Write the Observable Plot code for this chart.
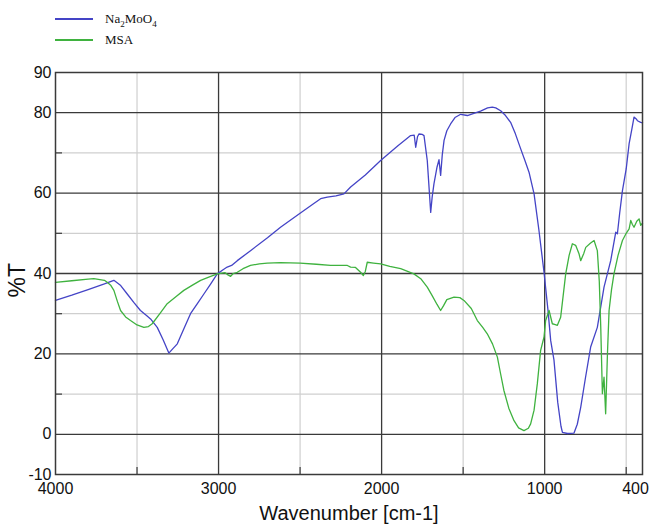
<!DOCTYPE html>
<html>
<head>
<meta charset="utf-8">
<script src="https://cdn.jsdelivr.net/npm/d3@7"></script>
<script src="https://cdn.jsdelivr.net/npm/@observablehq/plot@0.6"></script>
<style>
  body { margin: 0; background: #fff; width: 652px; height: 524px; overflow: hidden; }
  #legend { position: relative; height: 52px; font-family: "Liberation Serif", "Times New Roman", serif; font-size: 13px; color: #111; }
  .item { position: absolute; left: 55px; display: flex; align-items: center; line-height: 14px; }
  .swatch { width: 38px; height: 0; border-top: 2px solid; margin-right: 12px; }
  #chart svg { display: block; }
</style>
</head>
<body>
<div id="legend"></div>
<div id="chart"></div>
<script>
// ---- Data ----
const seriesNames = ["Na2MoO4", "MSA"];
const seriesColors = ["#4444c6", "#3fb23f"];

const naWn = [4000,3900,3800,3700,3642,3600,3560,3520,3479,3440,3417,3376,3340,3305,3280,3253,3210,3172,3130,3090,3050,3008,2970,2947,2920,2885,2800,2700,2620,2500,2420,2374,2333,2280,2231,2190,2100,2006,1900,1822,1800,1791,1780,1771,1750,1740,1720,1699,1690,1679,1660,1648,1638,1628,1617,1600,1577,1550,1515,1474,1430,1393,1350,1321,1300,1270,1240,1209,1180,1147,1120,1096,1065,1035,1004,980,963,943,920,900,891,860,820,800,779,750,718,677,636,595,564,554,540,523,500,482,465,452,440,431,411,400];
const naT  = [33.3,34.6,36.0,37.4,38.3,37.0,34.9,32.8,30.8,29.5,28.7,26.6,23.5,20.2,21.3,22.5,26.5,30.0,32.5,34.9,37.3,39.9,41.0,41.6,42.0,43.2,45.8,48.9,51.5,55.0,57.3,58.6,59.0,59.3,59.8,61.5,64.5,68.1,71.8,74.3,74.4,71.4,74.0,74.7,74.6,74.3,68.1,55.2,59.0,62.3,66.5,68.3,64.4,69.5,73.1,75.5,77.2,78.8,79.6,79.3,79.9,80.4,81.2,81.4,81.2,80.5,79.3,77.6,74.8,71.0,68.0,65.2,59.8,50.7,40.3,31.0,23.3,18.5,8.0,2.0,0.5,0.2,0.3,2.5,6.7,14.0,21.7,26.6,36.6,43.2,50.3,49.9,55.0,60.6,66.0,72.3,76.0,78.9,78.5,78.0,77.6,77.5];

const msaWn = [4000,3900,3800,3765,3700,3683,3660,3642,3620,3601,3570,3540,3500,3458,3430,3407,3360,3315,3260,3213,3160,3110,3060,3008,2960,2940,2926,2910,2885,2850,2804,2750,2701,2620,2500,2400,2313,2210,2190,2160,2129,2112,2100,2088,2050,2006,1950,1883,1802,1760,1720,1690,1660,1638,1620,1600,1556,1520,1495,1450,1413,1380,1352,1320,1290,1270,1250,1220,1188,1160,1127,1100,1086,1065,1045,1025,1004,994,973,953,935,922,902,871,850,830,810,790,779,760,748,720,697,677,665,656,646,636,626,615,605,590,575,550,523,500,482,472,462,452,435,421,411,400];
const msaT  = [37.8,38.2,38.6,38.7,38.3,37.8,37.0,35.8,33.0,30.8,29.2,28.3,27.2,26.6,26.8,27.5,30.0,32.5,34.3,35.8,37.1,38.3,39.1,39.9,40.2,39.6,39.3,40.0,40.3,41.2,42.0,42.4,42.6,42.7,42.6,42.3,42.0,42.0,41.6,41.5,40.3,39.5,40.5,42.8,42.6,42.4,41.8,41.2,39.9,38.7,36.6,34.5,32.3,30.8,32.0,33.5,34.1,34.0,33.3,31.3,28.3,26.6,25.0,22.5,19.2,15.0,10.9,6.5,3.4,1.6,0.9,1.5,2.6,6.0,12.6,20.8,24.2,28.3,30.8,27.5,27.3,27.1,29.1,39.9,44.5,47.4,47.0,45.0,43.2,45.0,46.5,47.5,48.2,45.7,38.0,26.6,10.1,14.2,5.1,20.0,30.8,36.0,39.9,44.5,48.2,50.0,51.1,53.2,52.2,51.5,53.0,53.6,52.0,52.5];

const xTicks = [4000, 3000, 2000, 1000];
const xTickLast = [400];
const yTicks = [90, 80, 60, 40, 20, 0, -10];
const majorX = [3000, 2000, 1000];
const minorX = [3500, 2500, 1500, 500];
const majorY = [0, 20, 40, 60, 80];
const minorY = [10, 30, 50, 70];
const xLabel = "Wavenumber [cm-1]";
const yLabel = "%T";

// ---- Build tables ----
const na = naWn.map((w, i) => ({wn: w, t: naT[i]}));
const msa = msaWn.map((w, i) => ({wn: w, t: msaT[i]}));

// ---- Legend ----
const legend = document.getElementById("legend");
const labelsHtml = ["Na<sub style='font-size:9px;line-height:0'>2</sub>MoO<sub style='font-size:9px;line-height:0'>4</sub>", "MSA"];
const tops = [12, 33];
seriesNames.forEach((n, i) => {
  const d = document.createElement("div");
  d.className = "item";
  d.style.top = tops[i] + "px";
  d.innerHTML = `<span class="swatch" style="border-color:${seriesColors[i]}"></span><span>${labelsHtml[i]}</span>`;
  legend.appendChild(d);
});

// ---- Chart ----
const fmt = d => String(d);
const chart = Plot.plot({
  width: 652,
  height: 472,
  marginLeft: 55,
  marginRight: 10,
  marginTop: 20,
  marginBottom: 50,
  x: {domain: [4000, 400]},
  y: {domain: [-10, 90]},
  style: {fontFamily: "'Liberation Sans', Arial, sans-serif", fontSize: "16px", color: "#111", background: "#fff"},
  marks: [
    Plot.ruleY(minorY, {stroke: "#cfcfcf", strokeWidth: 1.2}),
    Plot.ruleX(minorX, {stroke: "#cfcfcf", strokeWidth: 1.2}),
    Plot.ruleY(majorY, {stroke: "#3a3a3a", strokeWidth: 1.3}),
    Plot.ruleX(majorX, {stroke: "#3a3a3a", strokeWidth: 1.3}),
    Plot.line(na, {x: "wn", y: "t", stroke: seriesColors[0], strokeWidth: 1.3}),
    Plot.line(msa, {x: "wn", y: "t", stroke: seriesColors[1], strokeWidth: 1.3}),
    Plot.frame({stroke: "#3a3a3a", strokeWidth: 1.5}),
    Plot.axisY(minorY, {anchor: "left", tickSize: 7, dx: 7, stroke: "#3a3a3a", strokeWidth: 1.2, tickFormat: () => "", label: null}),
    Plot.axisX(minorX, {anchor: "bottom", tickSize: 7, dy: -7, stroke: "#3a3a3a", strokeWidth: 1.2, tickFormat: () => "", label: null}),
    Plot.axisY(yTicks, {tickSize: 0, tickPadding: 4, fontSize: 16, tickFormat: fmt, label: null}),
    Plot.axisX(xTicks, {tickSize: 0, tickPadding: 8, fontSize: 16, tickFormat: fmt, label: null}),
    Plot.axisX(xTickLast, {tickSize: 0, tickPadding: 8, fontSize: 16, tickFormat: fmt, label: null, dx: -7}),
    Plot.text([yLabel], {frameAnchor: "left", rotate: -90, dx: -38, dy: 24, fontSize: 23, fill: "#111"}),
    Plot.text([xLabel], {frameAnchor: "bottom", dy: 45, fontSize: 20, fill: "#111"})
  ]
});
document.getElementById("chart").appendChild(chart);
</script>
</body>
</html>
